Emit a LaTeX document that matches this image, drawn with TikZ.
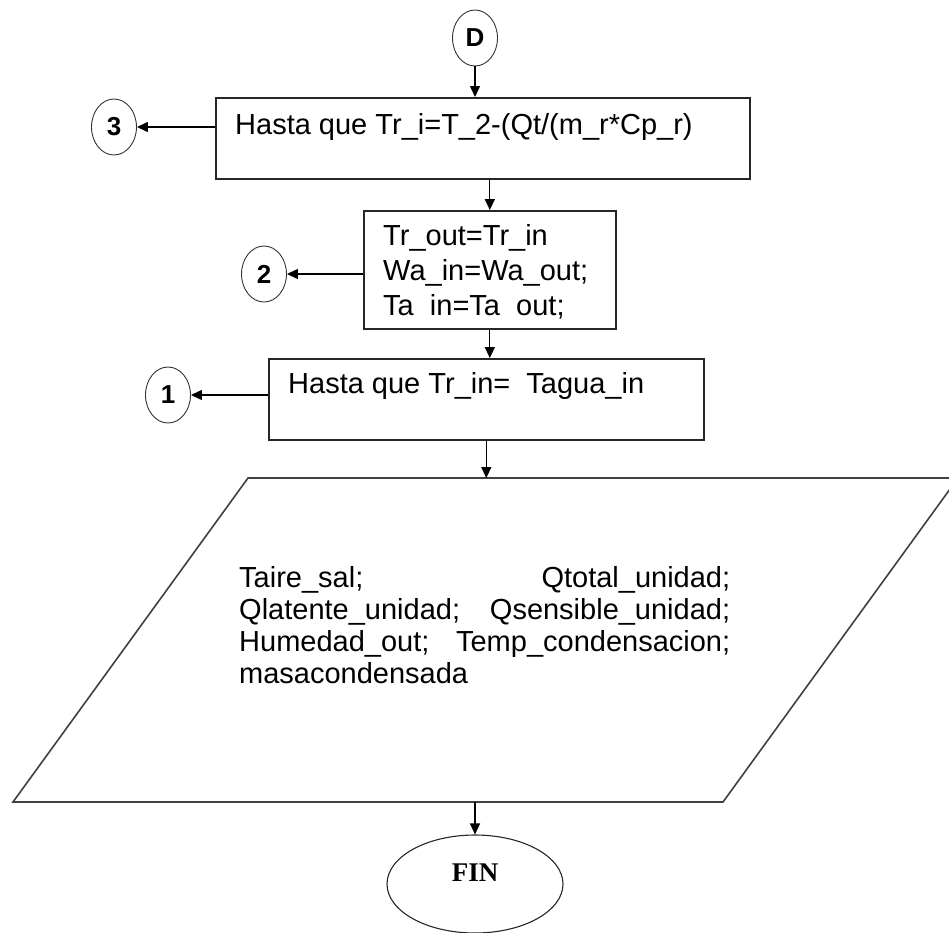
\documentclass[tikz,border=0pt]{standalone}
\usepackage{fontspec}
\setmainfont{Liberation Sans}
\newfontfamily\finfont{Liberation Serif}
\usetikzlibrary{shapes.geometric,arrows.meta}
\begin{document}
\begin{tikzpicture}[x=1pt,y=-1pt,
  box/.style={draw=black!85, rectangle, line width=1.6pt, inner sep=0pt, anchor=north west},
  conn/.style={draw=black!80, ellipse, line width=0.9pt, inner sep=0pt,
    minimum width=45pt, minimum height=56pt,
    font=\fontsize{26}{26}\selectfont\bfseries},
  txt/.style={font=\fontsize{29}{35}\selectfont, inner sep=0pt, anchor=west, align=left},
  arr/.style={-{Triangle[length=11pt,width=10pt]}, line width=1.3pt}]
\useasboundingbox (0,0) rectangle (949,932);
\clip (0,0) rectangle (949,932);

% connector circles
\node[conn] (D)  at (475,38)  {D};
\node[conn] (c3) at (114,127) {3};
\node[conn] (c2) at (264,274) {2};
\node[conn] (c1) at (168,395) {1};

% process boxes
\node[box, minimum width=534pt, minimum height=81pt]  (b3) at (215,97)  {};
\node[box, minimum width=252pt, minimum height=118pt] (b2) at (363,210) {};
\node[box, minimum width=435pt, minimum height=81pt]  (b1) at (268,358) {};

\node[txt] (t3) at (235,127) {Hasta que Tr\_i=T\_2-(Qt/(m\_r*Cp\_r)};
\node[txt] (t2) at (383,272) {Tr\_out=Tr\_in\\Wa\_in=Wa\_out;\\Ta\hphantom{\_}in=Ta\hphantom{\_}out;};
\node[txt] (t1) at (288,386) {Hasta que Tr\_in=\ \ Tagua\_in};

% output parallelogram
\coordinate (pa) at (248,478);
\coordinate (pb) at (958,478);
\coordinate (pc) at (723,802);
\coordinate (pd) at (13,802);
\draw[draw=black!75, line width=1.6pt] (pa) -- (pb) -- (pc) -- (pd) -- cycle;
\node[txt, text width=491pt, font=\fontsize{29}{32}\selectfont] (out) at (239,625)
  {Taire\_sal;\hfill Qtotal\_unidad;\\
   Qlatente\_unidad;\hfill Qsensible\_unidad;\\
   Humedad\_out;\hfill Temp\_condensacion;\\
   masacondensada};

% terminal
\node[draw=black!85, ellipse, line width=1.1pt, minimum width=176pt, minimum height=98pt] (fin) at (475,884) {};
\node[font=\finfont\bfseries\fontsize{27}{27}\selectfont, inner sep=0pt] (finlbl) at (475,873) {FIN};

% flow
\draw[arr] (D) -- (D |- b3.north);
\draw[arr] (c3 -| b3.west) -- (c3);
\draw[arr] (b2.north |- b3.south) -- (b2.north);
\draw[arr] (c2 -| b2.west) -- (c2);
\draw[arr] (b2.south) -- (b2.south |- b1.north);
\draw[arr] (c1 -| b1.west) -- (c1);
\draw[arr] (b1.south) -- (b1.south |- pa);
\draw[arr] (fin.north |- pc) -- (fin.north);
\end{tikzpicture}
\end{document}
